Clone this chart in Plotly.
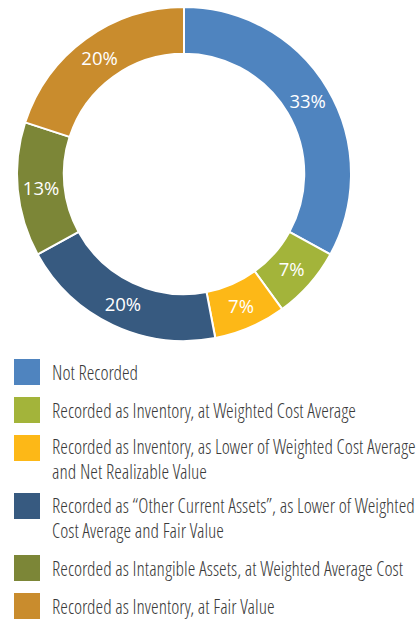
import plotly.graph_objects as go

labels = [
    "Not Recorded",
    "Recorded as Inventory, at Weighted Cost Average",
    "Recorded as Inventory, as Lower of Weighted Cost Average<br>and Net Realizable Value",
    "Recorded as \u201cOther Current Assets\u201d, as Lower of Weighted<br>Cost Average and Fair Value",
    "Recorded as Intangible Assets, at Weighted Average Cost",
    "Recorded as Inventory, at Fair Value",
]
values = [33, 7, 7, 20, 13, 20]
colors = ["#4F84BF", "#A3B43A", "#FDB817", "#375A80", "#7C8637", "#C98C2D"]

W, H = 419, 620

fig = go.Figure()
fig.add_trace(go.Pie(
    labels=labels,
    values=values,
    sort=False,
    direction="clockwise",
    rotation=0,
    hole=0.72,
    marker=dict(colors=colors, line=dict(color="white", width=2)),
    textinfo="percent",
    textposition="inside",
    insidetextorientation="horizontal",
    textfont=dict(family="Open Sans", size=18.5, color="white"),
    domain=dict(x=[17 / W, 351 / W], y=[1 - 341 / H, 1 - 7 / H]),
    showlegend=False,
    hoverinfo="label+percent",
))

# custom legend built from the data lists
row_centers = [372, 410, 459, 518, 568, 606]  # pixel centres of each legend text block
sq_centers = [372, 410, 448, 506, 568, 606]
shapes = []
annotations = []
for lab, col, rc, sc in zip(labels, colors, row_centers, sq_centers):
    shapes.append(dict(
        type="rect", xref="paper", yref="paper",
        x0=14 / W, x1=40 / W, y0=1 - (sc + 13) / H, y1=1 - (sc - 13) / H,
        fillcolor=col, line=dict(width=0),
    ))
    annotations.append(dict(
        xref="paper", yref="paper", x=50 / W, y=1 - rc / H,
        xanchor="left", yanchor="middle", align="left",
        text=lab, showarrow=False,
        font=dict(family="Open Sans Condensed Light", size=19.5, color="#3a3a3a", weight=300),
    ))

fig.update_layout(
    width=W, height=H,
    margin=dict(l=0, r=0, t=0, b=0),
    paper_bgcolor="white",
    plot_bgcolor="white",
    shapes=shapes,
    annotations=annotations,
)

fig.write_html("out.html", post_script="document.body.style.margin='0';",
               config={"displayModeBar": False})
